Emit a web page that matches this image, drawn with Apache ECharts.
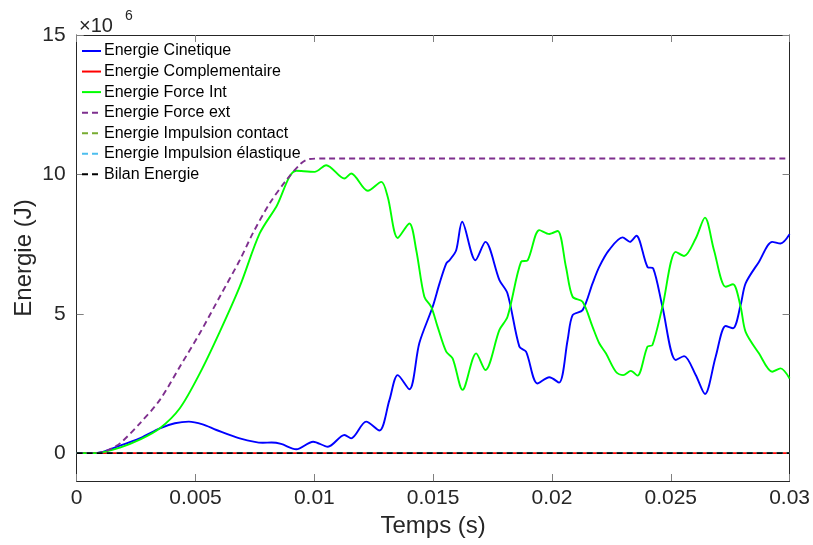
<!DOCTYPE html>
<html><head><meta charset="utf-8">
<script src="https://cdn.jsdelivr.net/npm/echarts@6/dist/echarts.min.js"></script>
<style>html,body{margin:0;padding:0;background:#fff}#c{width:813px;height:545px}</style>
</head><body><div id="c"></div><script>
// Values in units of 1e6 J, time in s
const tCin = [0, 0.0008, 0.00182, 0.0027, 0.0035, 0.00413, 0.00472, 0.0053, 0.00588, 0.00686, 0.00783, 0.0082, 0.0086, 0.00924, 0.00995, 0.01057, 0.01127, 0.01155, 0.01218, 0.01274, 0.01316, 0.01351, 0.014, 0.01442, 0.01498, 0.01527, 0.01555, 0.01569, 0.01597, 0.01622, 0.01678, 0.0172, 0.01779, 0.01813, 0.01863, 0.01891, 0.01939, 0.01989, 0.0203, 0.02066, 0.02087, 0.02129, 0.02171, 0.02199, 0.0224, 0.02297, 0.02328, 0.02355, 0.02402, 0.02426, 0.02465, 0.02521, 0.02556, 0.02605, 0.02644, 0.02689, 0.02731, 0.02762, 0.02794, 0.02815, 0.02871, 0.02927, 0.02962, 0.03];
const vCin = [0, 0, 0.27, 0.55, 0.89, 1.07, 1.13, 1.03, 0.83, 0.53, 0.37, 0.38, 0.33, 0.14, 0.41, 0.23, 0.65, 0.53, 1.13, 0.81, 1.9, 2.8, 2.29, 3.95, 5.25, 6.09, 6.8, 6.92, 7.28, 8.3, 6.92, 7.58, 6.21, 5.73, 3.82, 3.64, 2.5, 2.72, 2.53, 4.06, 4.95, 5.13, 6.09, 6.68, 7.28, 7.74, 7.58, 7.8, 6.68, 6.63, 5.25, 3.34, 3.48, 2.8, 2.12, 3.46, 4.56, 4.48, 5.31, 6.09, 6.86, 7.58, 7.52, 7.85];

const tInt = [0, 0.0008, 0.00182, 0.0027, 0.0035, 0.00434, 0.00518, 0.00602, 0.00686, 0.0077, 0.0084, 0.00924, 0.01001, 0.0105, 0.01127, 0.01155, 0.01225, 0.01282, 0.01309, 0.01351, 0.014, 0.01429, 0.01463, 0.01492, 0.01519, 0.01555, 0.01582, 0.01624, 0.01681, 0.0172, 0.01779, 0.01813, 0.0187, 0.01898, 0.01947, 0.01989, 0.02024, 0.02059, 0.02087, 0.02129, 0.02171, 0.02199, 0.02227, 0.02269, 0.023, 0.02332, 0.0236, 0.02402, 0.02423, 0.02465, 0.02521, 0.02556, 0.02605, 0.02644, 0.02682, 0.02731, 0.02762, 0.02794, 0.02815, 0.02871, 0.02927, 0.02962, 0.03];
const vInt = [0, 0, 0.2, 0.5, 0.89, 1.61, 2.86, 4.35, 5.97, 7.88, 8.84, 10.13, 10.09, 10.33, 9.85, 10.03, 9.41, 9.73, 9.19, 7.72, 8.24, 7.28, 5.61, 5.25, 4.53, 3.64, 3.4, 2.27, 3.58, 2.98, 4.42, 4.89, 6.86, 6.92, 8.0, 7.86, 7.97, 6.68, 5.61, 5.43, 4.53, 3.94, 3.58, 2.92, 2.8, 2.95, 2.78, 3.82, 3.88, 5.25, 7.22, 7.07, 7.7, 8.45, 7.28, 5.97, 6.06, 5.25, 4.35, 3.58, 2.92, 3.04, 2.68];

const tExt = [0, 0.0008, 0.0013, 0.00182, 0.00266, 0.0035, 0.00434, 0.00518, 0.00602, 0.00686, 0.00742, 0.00812, 0.00882, 0.00945, 0.0098, 0.0105, 0.03];
const vExt = [0, 0, 0.1, 0.35, 1.07, 1.91, 3.1, 4.3, 5.61, 6.92, 7.9, 8.96, 9.79, 10.4, 10.55, 10.57, 10.57];

const tZero = [0, 0.03];
const vComp = [0, 0];
const vImpContact = [0, 0];
const vImpElast = [0, 0];
const vBilan = [0, 0];

const xTicks = [0, 0.005, 0.01, 0.015, 0.02, 0.025, 0.03];
const yTicks = [0, 5, 10, 15];

const names = ['Energie Cinetique', 'Energie Complementaire', 'Energie Force Int', 'Energie Force ext', 'Energie Impulsion contact', 'Energie Impulsion élastique', 'Bilan Energie'];

const zip = (t, v) => t.map((x, i) => [x, v[i]]);
const FONT = "'Liberation Sans', Arial, Helvetica, sans-serif";
const AX = '#262626';

function line(name, data, color, dashed, smooth) {
  return {
    name, type: 'line', data, symbol: 'none', smooth: smooth ? 0.3 : false,
    lineStyle: { color, width: 1.9, type: dashed ? [6, 4] : 'solid' },
    itemStyle: { color }, animation: false, z: 2
  };
}

const chart = echarts.init(document.getElementById('c'), null, { renderer: 'canvas' });
const commonX = {
  type: 'value', min: 0, max: 0.03, interval: 0.005,
  splitLine: { show: false },
  axisLine: { show: true, onZero: false, lineStyle: { color: AX, width: 1 } },
  axisTick: { show: true, inside: true, length: 7, lineStyle: { color: '#808080' } }
};
const commonY = {
  type: 'value', min: -1, max: 15,
  splitLine: { show: false },
  axisLine: { show: true, onZero: false, lineStyle: { color: AX, width: 1 } },
  axisTick: { show: true, inside: true, length: 7, customValues: yTicks, lineStyle: { color: '#808080' } }
};
chart.setOption({
  backgroundColor: '#fff',
  animation: false,
  grid: { left: 76.7, right: 22.3, top: 35, bottom: 64, containLabel: false },
  textStyle: { fontFamily: FONT },
  xAxis: [
    Object.assign({}, commonX, {
      position: 'bottom',
      axisLabel: { fontSize: 21, color: AX, margin: 7, fontFamily: FONT,
        customValues: xTicks,
        formatter: v => String(parseFloat(v.toFixed(4))) },
      name: 'Temps (s)', nameLocation: 'middle', nameGap: 33, nameMoveOverlap: false,
      nameTextStyle: { fontSize: 24, color: AX, fontFamily: FONT }
    }),
    Object.assign({}, commonX, { position: 'top', axisLabel: { show: false } })
  ],
  yAxis: [
    Object.assign({}, commonY, {
      position: 'left',
      axisLabel: { fontSize: 21, color: AX, margin: 11, fontFamily: FONT, customValues: yTicks },
      name: 'Energie (J)', nameLocation: 'middle', nameGap: 40, nameMoveOverlap: false,
      nameTextStyle: { fontSize: 24, color: AX, fontFamily: FONT }
    }),
    Object.assign({}, commonY, { position: 'right', axisLabel: { show: false } })
  ],
  legend: {
    orient: 'vertical', left: 81, top: 43, padding: 0,
    itemWidth: 19, itemHeight: 14, itemGap: 4.55,
    itemStyle: { opacity: 0 },
    textStyle: { fontSize: 16, lineHeight: 14, color: '#000', fontFamily: FONT, padding: [0, 0, 0, -2] },
    data: names
  },
  graphic: [
    { type: 'text', left: 79, top: 16, style: { text: '×10', fontSize: 20, fill: AX, fontFamily: FONT } },
    { type: 'text', left: 125, top: 9, style: { text: '6', fontSize: 14, fill: AX, fontFamily: FONT } }
  ],
  series: [
    line(names[0], zip(tCin, vCin), '#0000FF', false, true),
    line(names[1], zip(tZero, vComp), '#FF0000', false, false),
    line(names[2], zip(tInt, vInt), '#00FF00', false, true),
    line(names[3], zip(tExt, vExt), '#7E2F8E', true, true),
    line(names[4], zip(tZero, vImpContact), '#77AC30', true, false),
    line(names[5], zip(tZero, vImpElast), '#4DBEEE', true, false),
    line(names[6], zip(tZero, vBilan), '#000000', true, false)
  ]
});
</script></body></html>
